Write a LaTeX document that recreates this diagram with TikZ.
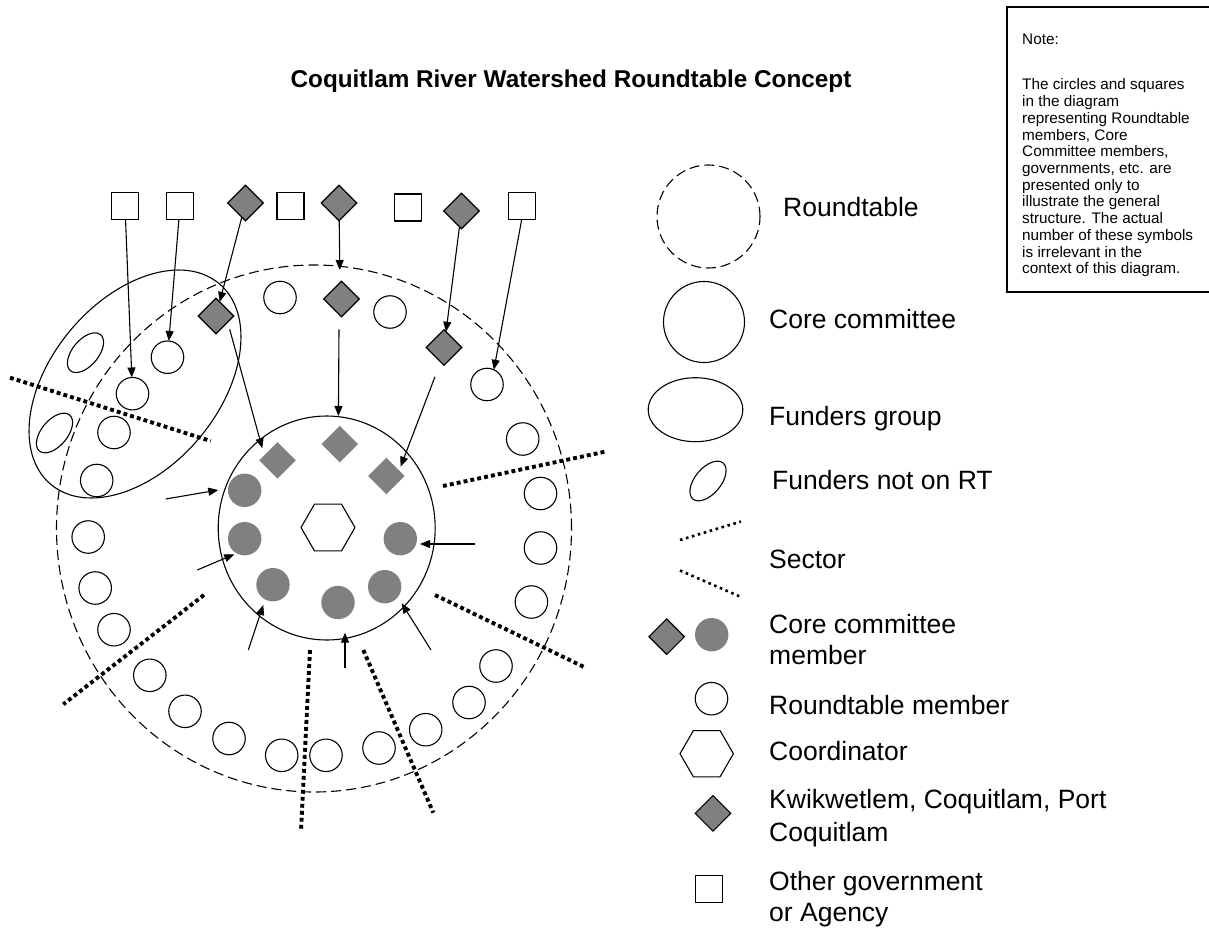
\documentclass[tikz,border=0pt]{standalone}
\usepackage{fontspec}
\setmainfont{Liberation Sans}
\usetikzlibrary{shapes.geometric,arrows.meta}
\definecolor{gfill}{RGB}{128,128,128}
\begin{document}
\begin{tikzpicture}[x=1pt,y=-1pt,
  mem/.style={circle,draw,line width=1.1pt,minimum size=32.5pt,inner sep=0pt,outer sep=0pt},
  cmem/.style={circle,fill=gfill,minimum size=33.4pt,inner sep=0pt,outer sep=0pt},
  gov/.style={rectangle,draw,line width=1.1pt,minimum size=27pt,inner sep=0pt,outer sep=0pt},
  kdia/.style={diamond,draw,fill=gfill,line width=1.1pt,minimum size=35.5pt,inner sep=0pt,outer sep=0pt},
  cdia/.style={diamond,fill=gfill,minimum size=36.5pt,inner sep=0pt,outer sep=0pt},
  fund/.style={ellipse,draw,line width=1.1pt,minimum width=47pt,minimum height=26pt,inner sep=0pt,outer sep=0pt,rotate=50},
  arr/.style={-{Triangle[length=10pt,width=8pt]},line width=1.1pt},
  sect/.style={line width=3.9pt,dash pattern=on 3.9pt off 3.1pt},
  lsect/.style={line width=2.6pt,dash pattern=on 2.6pt off 3.6pt},
  rtdash/.style={line width=1.1pt,dash pattern=on 10pt off 5pt},
  lab/.style={anchor=base west,inner sep=0pt,font=\fontsize{26.5}{31}\selectfont},
  notetxt/.style={anchor=base west,inner sep=0pt,font=\fontsize{15.3}{16.7}\selectfont}
]
\useasboundingbox (0,0) rectangle (1209,928);

% title
\node[anchor=base,inner sep=0pt,font=\fontsize{24.3}{29}\selectfont\bfseries] (title) at (571,87.5) {Coquitlam River Watershed Roundtable Concept};

% note box
\draw[line width=1.1pt] (1209,7) -- (1007,7) -- (1007,292) -- (1209,292);
\node[notetxt] (notehead) at (1022,45) {Note:};
\foreach \t [count=\i from 0] in {{The circles and squares},{in the diagram},{representing Roundtable},{members, Core},{Committee members,},{governments, etc. are},{presented only to},{illustrate the general},{structure. The actual},{number of these symbols},{is irrelevant in the},{context of this diagram.}}
  \node[notetxt] (note\i) at (1022,90+16.7*\i) {\t};

% big shapes
\node[ellipse,draw,rtdash,minimum width=515pt,minimum height=527pt,inner sep=0pt,outer sep=0pt] (rt) at (314,528.5) {};
\node[ellipse,draw,line width=1.1pt,minimum width=262pt,minimum height=168pt,inner sep=0pt,outer sep=0pt,rotate=50] (fgroup) at (135,384) {};
\node[ellipse,draw,line width=1.1pt,minimum width=217pt,minimum height=224pt,inner sep=0pt,outer sep=0pt] (core) at (326.7,528) {};

% coordinator
\draw[line width=1.1pt,shift={(328,527.5)}] (27,0) -- (13.5,23.4) -- (-13.5,23.4) -- (-27,0) -- (-13.5,-23.4) -- (13.5,-23.4) -- cycle;

% funders not on RT
\node[fund] (f1) at (85.5,352.7) {};
\node[fund] (f2) at (54.5,433) {};

% roundtable members
\foreach \n/\x/\y in {ctopa/280/297.5, ctopb/390/312, cra/487/384.5, crb/522.7/439, crc/540.5/493.5, crd/540.5/548, cre/531.4/602, crf/496/666, crg/469/702.5, crh/425.7/729.7, cba/379/748, cbb/326/755.3, cbc/281.7/755.3, clh/229/738.5, clg/185/711.3, clf/149.8/675.3, cle/114/629.7, cld/95.2/588, clc/88.2/537, clb/96.7/480.5, cla/114/432.5, cea/132.5/393.7, ceb/167.5/357.2}
  \node[mem] (\n) at (\x,\y) {};

% core committee members
\foreach \n/\x/\y in {gca/244.7/490.3, gcb/244.7/538.7, gcc/273/584.7, gcd/338/602.5, gce/384.7/586.7, gcf/400.3/538.7}
  \node[cmem] (\n) at (\x,\y) {};
\node[cdia] (dia) at (277.5,460.3) {};
\node[cdia] (dib) at (339.7,444.2) {};
\node[cdia] (dic) at (386.3,476) {};

% ring diamonds
\node[kdia] (dleft) at (216,316) {};
\node[kdia] (dmid) at (341.5,299) {};
\node[kdia] (dright) at (444,347.5) {};

% top row
\node[gov] (sqa) at (125,206) {};
\node[gov] (sqb) at (180,206) {};
\node[kdia] (da) at (245.5,203) {};
\node[gov] (sqc) at (290.5,206) {};
\node[kdia] (db) at (339,203) {};
\node[gov] (sqd) at (407.7,207.5) {};
\node[kdia] (dc) at (461.5,211) {};
\node[gov] (sqe) at (521.7,206) {};

% top arrows
\coordinate (rttop) at (339.8,270);
\draw[arr] (sqa) -- (cea);
\draw[arr] (sqb) -- (ceb);
\draw[arr] (da) -- (dleft);
\draw[arr] (db) -- (rttop);
\draw[arr] (dc) -- (dright);
\draw[arr] (sqe.south) -- (cra.65);

% arrows into the core committee
\coordinate (aas) at (339,329.3);   \coordinate (aae) at (338.4,416);
\coordinate (abs) at (229.7,329.3); \coordinate (abe) at (262.3,448.3);
\coordinate (acs) at (435,376.7);   \coordinate (ace) at (400.6,466.7);
\coordinate (ads) at (165.7,499);   \coordinate (ade) at (218.3,490);
\coordinate (aes) at (197.3,570);   \coordinate (aee) at (234.3,554.3);
\coordinate (afs) at (248.3,650);   \coordinate (afe) at (263.3,605);
\coordinate (ags) at (345,668);     \coordinate (age) at (345,632.7);
\coordinate (ahs) at (431,650);     \coordinate (ahe) at (401.7,603.3);
\coordinate (ais) at (475,544);     \coordinate (aie) at (420,544);
\foreach \a in {a,b,c,d,e,f,g,h,i}
  \draw[arr] (a\a s) -- (a\a e);

% sectors
\draw[sect] (10,377.7) -- (210.7,441);
\draw[sect] (443,486) -- (606,451.5);
\draw[sect] (204,595) -- (63.3,704.3);
\draw[sect] (310,650) -- (301,830.7);
\draw[sect] (435,595) -- (583.5,666.7);
\draw[sect] (363.3,650) -- (433.3,812.7);

% legend
\node[circle,draw,rtdash,minimum size=103pt,inner sep=0pt,outer sep=0pt] (lrt) at (708.5,216.5) {};
\node[lab] (lrtt) at (783,216) {Roundtable};
\node[circle,draw,line width=1.1pt,minimum size=81pt,inner sep=0pt,outer sep=0pt] (lcore) at (704,322) {};
\node[lab] (lcoret) at (769,328.3) {Core committee};
\node[ellipse,draw,line width=1.1pt,minimum width=94.6pt,minimum height=64pt,inner sep=0pt,outer sep=0pt] (lfg) at (695.5,409.7) {};
\node[lab] (lfgt) at (769,425) {Funders group};
\node[fund] (lfn) at (708,481) {};
\node[lab] (lfnt) at (772,489.3) {Funders not on RT};
\draw[lsect] (680,540) -- (741,521.5);
\draw[lsect] (680,570.5) -- (741,597);
\node[lab] (lsec) at (769,568.3) {Sector};
\node[kdia] (lccd) at (666.7,636.7) {};
\node[cmem] (lccc) at (711.7,634.7) {};
\node[lab] (lcct) at (769,633.3) {Core committee};
\node[lab] (lcct2) at (769,664) {member};
\node[mem] (lrm) at (711.5,698.7) {};
\node[lab] (lrmt) at (769,714) {Roundtable member};
\draw[line width=1.1pt,shift={(706.7,753.7)}] (26.7,0) -- (13.35,23.1) -- (-13.35,23.1) -- (-26.7,0) -- (-13.35,-23.1) -- (13.35,-23.1) -- cycle;
\node[lab] (lcot) at (769,760.7) {Coordinator};
\node[kdia] (lkd) at (713,813.3) {};
\node[lab] (lkt) at (769,808.3) {Kwikwetlem, Coquitlam, Port};
\node[lab] (lkt2) at (769,841.7) {Coquitlam};
\node[gov,minimum size=27.4pt] (lsq) at (709,889) {};
\node[lab] (lsqt) at (769,890) {Other government};
\node[lab] (lsqt2) at (769,921.5) {or Agency};
\end{tikzpicture}
\end{document}
